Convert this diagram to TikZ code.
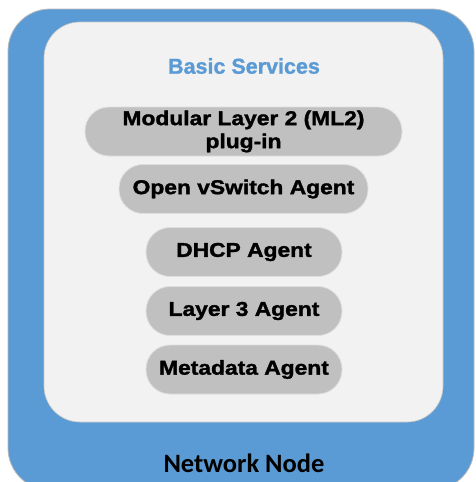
\documentclass[tikz,border=0pt]{standalone}
\usepackage{fontspec}
\setmainfont{Liberation Sans}
\newfontfamily\pillfont[FakeStretch=1.14, FakeBold=1.6]{Liberation Sans Bold}
\newfontfamily\titlefont[FakeBold=1.2]{Liberation Sans Bold}
\newfontfamily\nodefont{Carlito Bold}
\definecolor{nodeblue}{HTML}{5B9BD5}
\definecolor{panel}{HTML}{F2F2F2}
\definecolor{pillgray}{HTML}{C0C0C0}
\tikzset{
  pill/.style={rectangle, rounded corners=24pt, fill=pillgray, draw=gray!25,
    line width=0.8pt, minimum height=49pt, align=center, inner sep=0pt,
    font=\pillfont\fontsize{20}{23}\selectfont},
  title/.style={font=\titlefont\fontsize{21.5}{24}\selectfont, text=nodeblue},
}

\begin{document}
\begin{tikzpicture}[x=1pt,y=-1pt]
\useasboundingbox (0,0) rectangle (475,482);
\begin{scope}
\clip (0,0) rectangle (475,482);
\draw[fill=nodeblue, draw=gray!55, line width=0.8pt, rounded corners=42pt] (8,9) rectangle (474,490);
\end{scope}
\draw[fill=panel, draw=gray!45, line width=0.6pt, rounded corners=36pt] (44,22) rectangle (443,422);

\node[title] (basic) at (244,66) {Basic Services};
\node[pill, minimum width=317pt] (ml2)  at (243.5,131.5) {Modular Layer 2 (ML2)\\plug-in};
\node[pill, minimum width=249pt] (ovs)  at (243.5,189)   {Open vSwitch Agent};
\node[pill, minimum width=196pt] (dhcp) at (244,252)     {DHCP Agent};
\node[pill, minimum width=196pt] (l3)   at (244,311)     {Layer 3 Agent};
\node[pill, minimum width=196pt] (meta) at (244,369.5)   {Metadata Agent};

\node[font=\nodefont\fontsize{26.5}{29}\selectfont] (net) at (244,463) {Network Node};
\end{tikzpicture}
\end{document}
